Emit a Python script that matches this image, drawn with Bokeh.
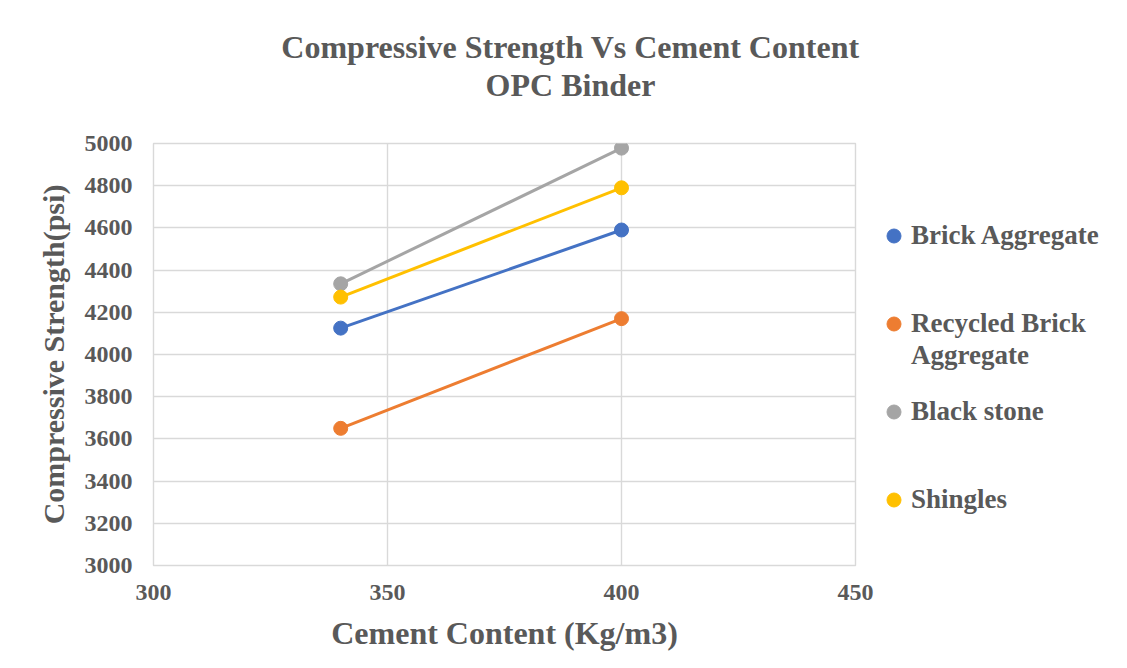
from bokeh.plotting import figure
from bokeh.models import Legend, LegendItem, Label, Range1d, FixedTicker
from bokeh.layouts import column, row
from bokeh.embed import file_html
from bokeh.resources import INLINE

cement = [340, 400]
brick = [4125, 4590]
recycled = [3650, 4170]
black_stone = [4335, 4978]
shingles = [4272, 4790]
series_names = ["Brick Aggregate", "Recycled Brick", "Black stone", "Shingles"]
series_values = [brick, recycled, black_stone, shingles]
colors = ["#4472C4", "#ED7D31", "#A5A5A5", "#FFC000"]
x_ticks = [300, 350, 400, 450]
y_ticks = list(range(3000, 5001, 200))
title_text = "Compressive Strength Vs Cement Content\nOPC Binder"

FONT = "Liberation Serif"
TXT = "#595959"

# ---- title strip ----
t = figure(width=1127, height=131, output_backend="svg", toolbar_location=None,
           x_range=Range1d(0, 1), y_range=Range1d(0, 1), x_axis_type=None, y_axis_type=None,
           min_border_left=13, min_border_right=0, min_border_top=0, min_border_bottom=0)
t.outline_line_color = None
t.add_layout(Label(x=0.5, y=0.5, text=title_text, text_align="center", text_baseline="middle",
                   text_font=FONT, text_font_style="bold", text_font_size="32px",
                   text_color=TXT, text_line_height=1.05))

# ---- main plot ----
p = figure(width=875, height=537, output_backend="svg", toolbar_location=None,
           x_range=Range1d(300, 450), y_range=Range1d(3000, 5000),
           min_border_left=153, min_border_right=20, min_border_top=12, min_border_bottom=103)
p.outline_line_color = "#D9D9D9"
p.outline_line_width = 1.4
for g in (p.xgrid[0], p.ygrid[0]):
    g.grid_line_color = "#D9D9D9"
    g.grid_line_width = 1.4
p.xaxis.ticker = FixedTicker(ticks=x_ticks)
p.yaxis.ticker = FixedTicker(ticks=y_ticks)
for ax in (p.xaxis[0], p.yaxis[0]):
    ax.axis_line_color = None
    ax.major_tick_line_color = None
    ax.minor_tick_line_color = None
    ax.major_label_text_font = FONT
    ax.major_label_text_font_style = "bold"
    ax.major_label_text_font_size = "24px"
    ax.major_label_text_color = TXT
    ax.axis_label_text_font = FONT
    ax.axis_label_text_font_style = "bold"
    ax.axis_label_text_color = TXT
p.xaxis.axis_label = "Cement Content (Kg/m3)"
p.yaxis.axis_label = "Compressive Strength(psi)"
p.xaxis.axis_label_text_font_size = "32px"
p.yaxis.axis_label_text_font_size = "30px"
p.xaxis.major_label_standoff = 13
p.yaxis.major_label_standoff = 15
p.xaxis.axis_label_standoff = 12
p.yaxis.axis_label_standoff = 12

for vals, c in zip(series_values, colors):
    p.line(cement, vals, line_color=c, line_width=3)
    p.scatter(cement, vals, size=14, fill_color=c, line_color=c)

# ---- legend column (same series, drawn off its visible range; only legend shows) ----
lg = figure(width=252, height=537, output_backend="svg", toolbar_location=None,
            x_range=Range1d(0, 1), y_range=Range1d(0, 1), x_axis_type=None, y_axis_type=None,
            min_border=0)
lg.outline_line_color = None
items = []
for name, vals, c in zip(series_names, series_values, colors):
    r = lg.scatter(cement, vals, size=14, fill_color=c, line_color=c)
    items.append(LegendItem(label=name, renderers=[r]))

common = dict(border_line_color=None, background_fill_alpha=0, label_text_font=FONT,
              label_text_font_style="bold", label_text_font_size="27px", label_text_color=TXT,
              glyph_width=35, glyph_height=35, spacing=0, label_standoff=0, padding=0, margin=0)
legend = Legend(items=items, location=(1, 22), label_height=88, **common)
lg.add_layout(legend, "center")
legend2 = Legend(items=[LegendItem(label="Aggregate", renderers=[])], location=(1, 166),
                 label_height=88, **common)
lg.add_layout(legend2, "center")

layout = column(t, row(p, lg))
open("out.html", "w").write(file_html(layout, INLINE))
